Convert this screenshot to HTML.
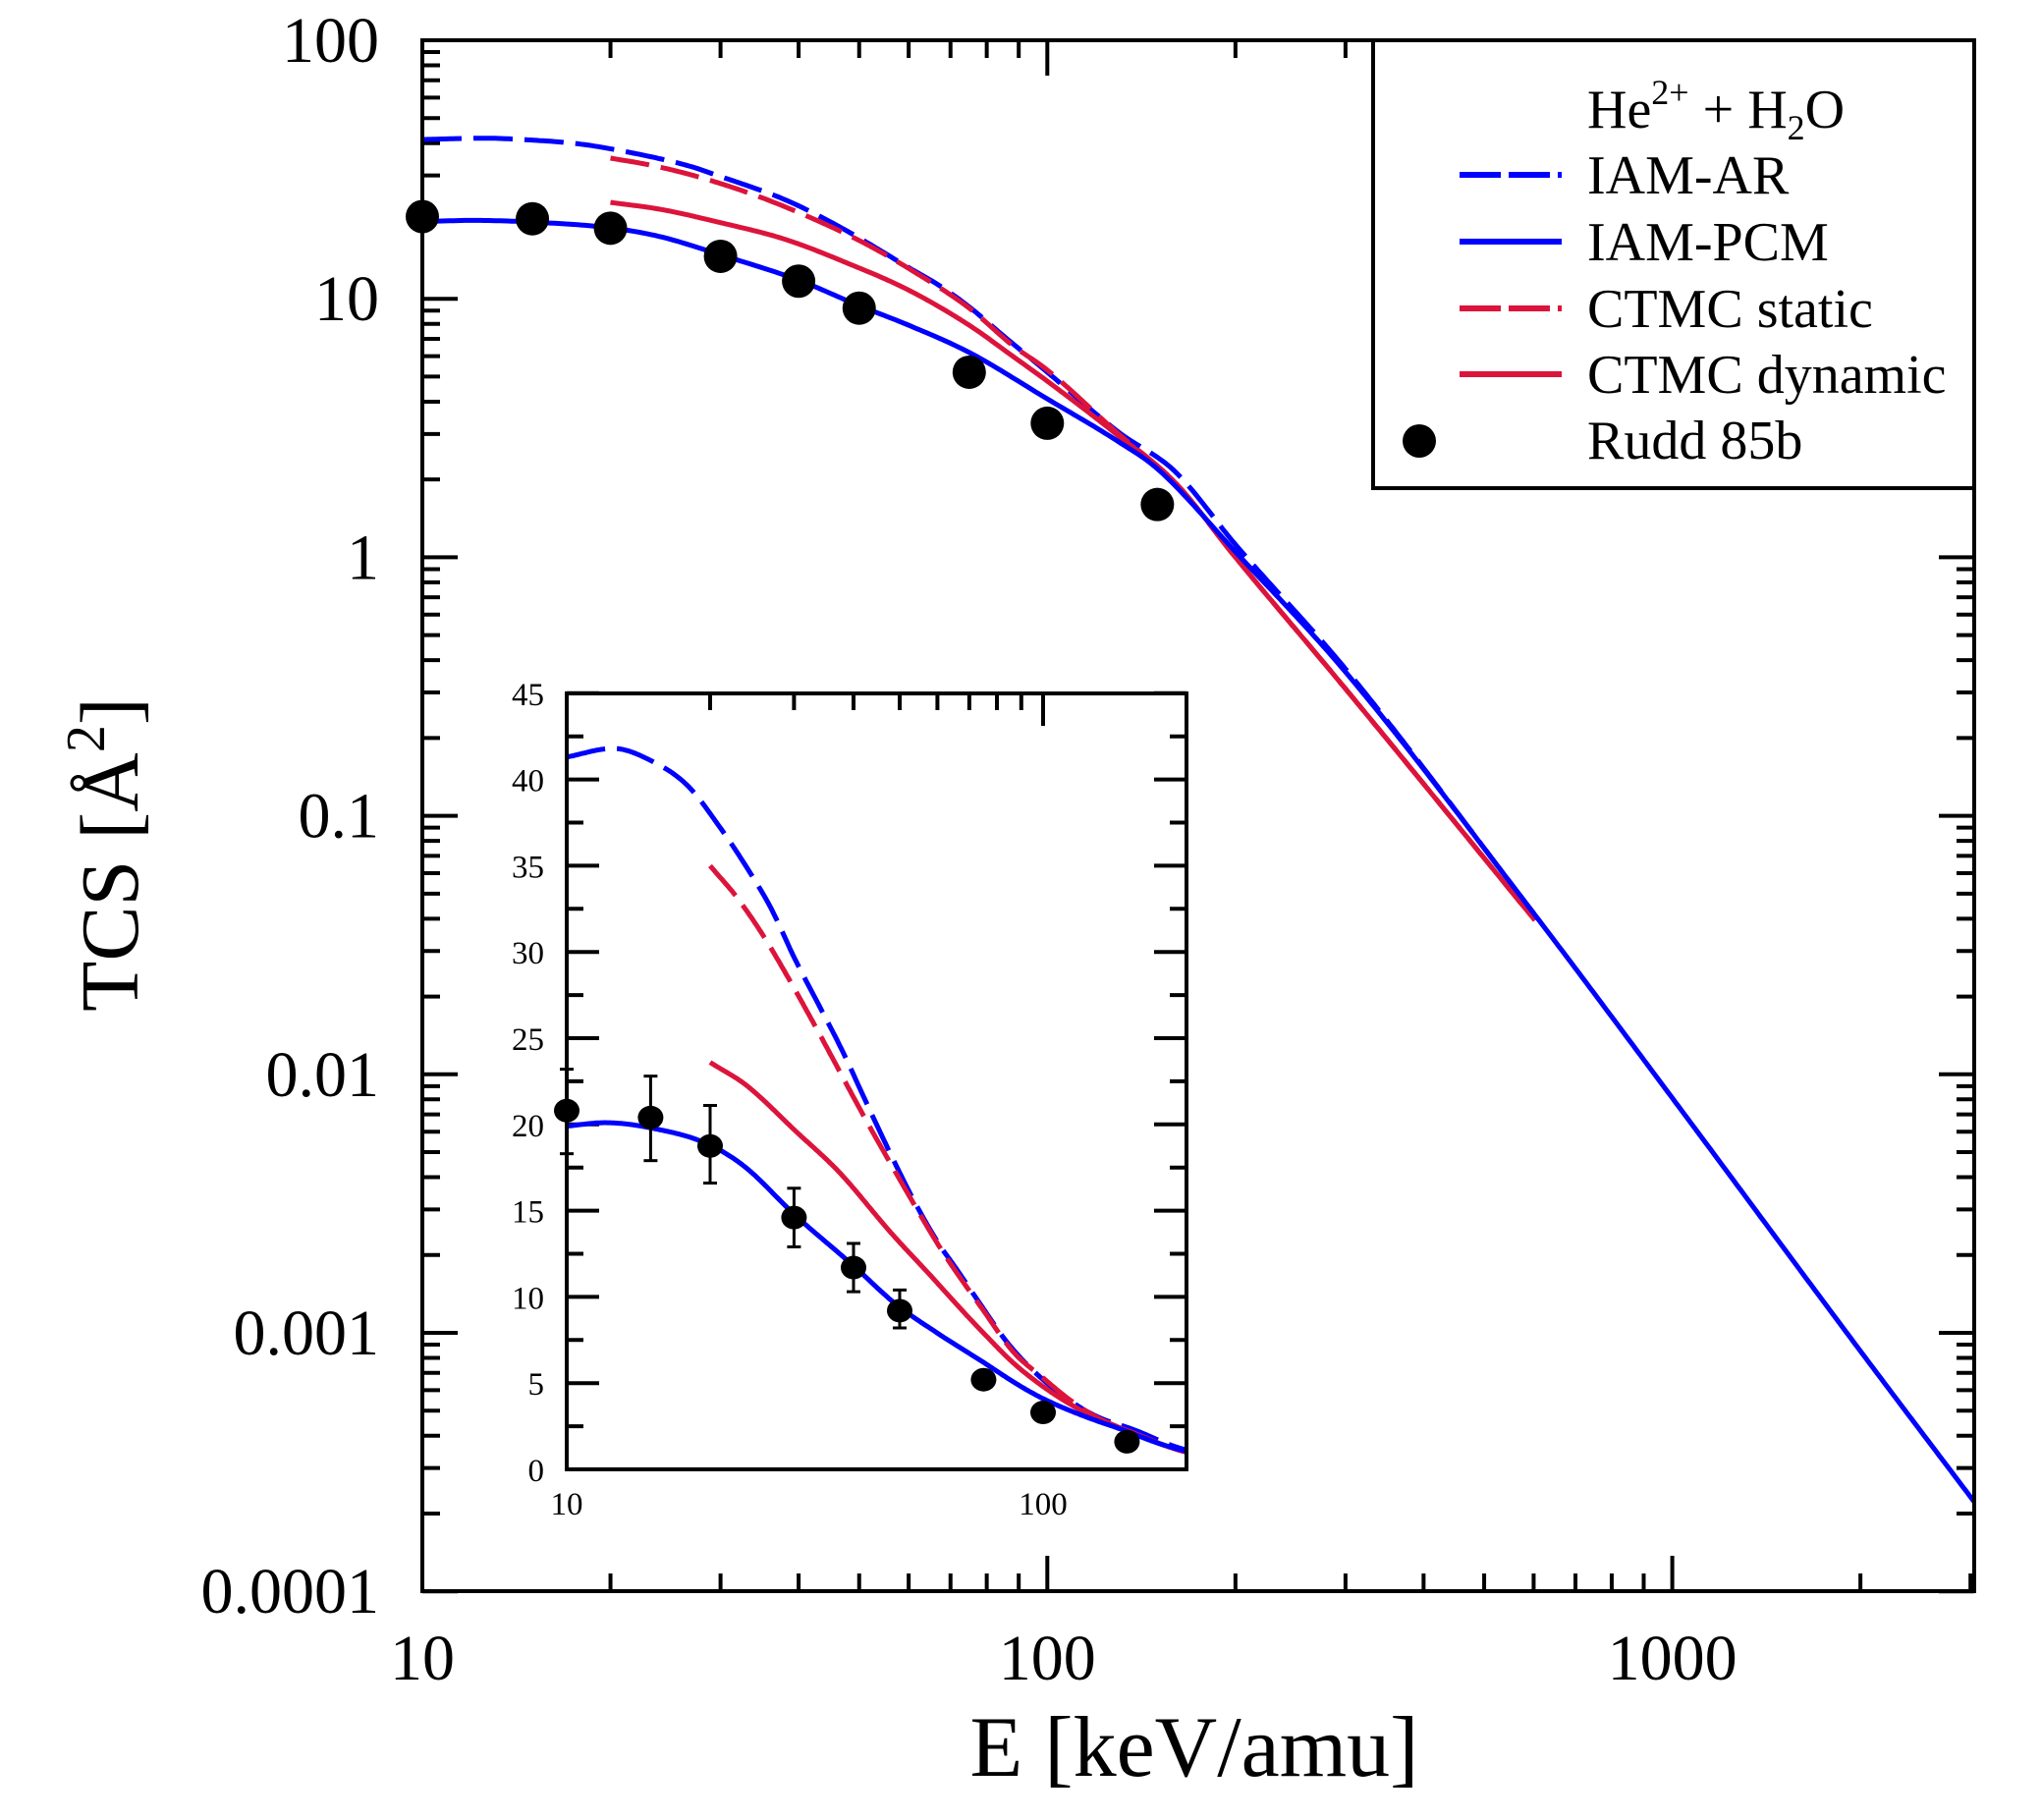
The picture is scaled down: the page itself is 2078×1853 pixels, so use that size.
<!DOCTYPE html>
<html><head><meta charset="utf-8"><style>
html,body{margin:0;padding:0;background:#fff;}
svg{display:block;}
text{font-family:"Liberation Serif",serif;fill:#000;}
</style></head><body>
<svg id="s" width="2078" height="1853" viewBox="0 0 2078 1853" xmlns="http://www.w3.org/2000/svg">
<rect width="2078" height="1853" fill="#fff"/>
<g id="main"></g>
<g id="inset"></g>
<rect x="1398" y="41" width="612" height="456" fill="#fff" stroke="#000" stroke-width="4"/>
<text x="1616" y="130" font-size="56">He<tspan dy="-24" font-size="36">2+</tspan><tspan dy="24"> + H</tspan><tspan dy="12" font-size="36">2</tspan><tspan dy="-12">O</tspan></text>
<line x1="1486" y1="178" x2="1590" y2="178" stroke="#0000ff" stroke-width="6" stroke-dasharray="42,8"/>
<text x="1616" y="197" font-size="56">IAM-AR</text>
<line x1="1486" y1="246" x2="1590" y2="246" stroke="#0000ff" stroke-width="6"/>
<text x="1616" y="265" font-size="56">IAM-PCM</text>
<line x1="1486" y1="314" x2="1590" y2="314" stroke="#dc143c" stroke-width="6" stroke-dasharray="42,8"/>
<text x="1616" y="333" font-size="56">CTMC static</text>
<line x1="1486" y1="381" x2="1590" y2="381" stroke="#dc143c" stroke-width="6"/>
<text x="1616" y="400" font-size="56">CTMC dynamic</text>
<ellipse cx="1445" cy="449" rx="17" ry="17" fill="#000"/>
<text x="1616" y="467" font-size="56">Rudd 85b</text>
<text x="1216" y="1808" font-size="88" text-anchor="middle">E [keV/amu]</text>
<text transform="translate(140,870) rotate(-90)" font-size="84" text-anchor="middle">TCS [Å<tspan dy="-34" font-size="56">2</tspan><tspan dy="34">]</tspan></text>
</svg>
<script>
const NS="http://www.w3.org/2000/svg";
function el(p,t,a){const e=document.createElementNS(NS,t);for(const k in a)e.setAttribute(k,a[k]);p.appendChild(e);return e;}
const L=Math.log10;
const MX=e=>430+636.3*(L(e)-1), MY=v=>41+263.2*(2-L(v));
const IX=e=>577+485*(L(e)-1), IY=v=>1496-17.56*v;
const PCM=[[10,19.9],[12,20.1],[15,19.8],[20,18.8],[24,17.4],[30,14.8],[40,11.8],[50,9.4],[60,7.9],[75,6.2],[100,4.1],[130,2.8],[150,2.2],[200,1.05],[300,0.36],[600,0.042],[1000,0.0081],[2000,0.00085],[3050,0.00022]];
const AR=[[10,41.3],[12.5,41.8],[15,41.1],[18,39.6],[21,37.2],[24,34.8],[27,32.4],[30,29.7],[34,26.8],[38,24.2],[43,21],[48,18.2],[54,15.4],[60,13.2],[67,11.3],[75,9.3],[85,7.2],[100,5.2],[130,3.05],[160,2.15],[200,1.12],[300,0.37],[600,0.042]];
const ST=[[20,35],[23,33],[27,30.1],[34,25.2],[42,20.5],[51,16.4],[60,13.1],[75,9.2],[88,6.6],[100,5.3],[130,3.0],[160,1.95],[200,1.0],[300,0.31],[600,0.040]];
const DY=[[20,23.6],[24,22.2],[30,19.7],[38,17.0],[48,13.7],[60,10.8],[75,7.9],[88,6.0],[100,4.8],[130,2.95],[160,1.95],[200,1.0],[300,0.31],[600,0.040]];
function mk(d){const xs=d.map(p=>L(p[0])),ys=d.map(p=>L(p[1])),n=d.length;const del=[],m=new Array(n);
 for(let i=0;i<n-1;i++)del.push((ys[i+1]-ys[i])/(xs[i+1]-xs[i]));
 m[0]=del[0];m[n-1]=del[n-2];
 for(let i=1;i<n-1;i++){m[i]=(del[i-1]*del[i]<=0)?0:(del[i-1]+del[i])/2;}
 for(let i=0;i<n-1;i++){if(del[i]==0){m[i]=m[i+1]=0;continue;}const a=m[i]/del[i],b=m[i+1]/del[i],s=a*a+b*b;if(s>9){const t=3/Math.sqrt(s);m[i]=t*a*del[i];m[i+1]=t*b*del[i];}}
 return e=>{const x=L(e);let i=0;while(i<n-2&&x>xs[i+1])i++;const h=xs[i+1]-xs[i],t=(x-xs[i])/h,t2=t*t,t3=t2*t;
  const y=(2*t3-3*t2+1)*ys[i]+(t3-2*t2+t)*h*m[i]+(-2*t3+3*t2)*ys[i+1]+(t3-t2)*h*m[i+1];return Math.pow(10,y);};}
function path(d,X,Y,e0,e1){const f=mk(d);let s="";const n=400;for(let k=0;k<=n;k++){const e=Math.pow(10,L(e0)+(L(e1)-L(e0))*k/n);s+=(k?"L":"M")+X(e).toFixed(1)+","+Y(f(e)).toFixed(1);}return s;}
const M=document.getElementById("main"),I=document.getElementById("inset");
const BL="#0000ff",RD="#dc143c";
for(let dec=1;dec<=3;dec++)for(let m=1;m<=9;m++){const e=m*Math.pow(10,dec);if(e>3040)break;const x=MX(e);const len=m==1?36:18;
 el(M,"line",{x1:x,y1:1620,x2:x,y2:1620-len,stroke:"#000","stroke-width":4});
 el(M,"line",{x1:x,y1:41,x2:x,y2:41+len,stroke:"#000","stroke-width":4});}
for(let dec=-4;dec<=1;dec++)for(let m=1;m<=9;m++){const v=m*Math.pow(10,dec);const y=MY(v);const len=m==1?36:18;
 el(M,"line",{x1:430,y1:y,x2:430+len,y2:y,stroke:"#000","stroke-width":4});
 el(M,"line",{x1:2010,y1:y,x2:2010-len,y2:y,stroke:"#000","stroke-width":4});}
const yl=["0.0001","0.001","0.01","0.1","1","10","100"];
yl.forEach((t,i)=>{const tx=el(M,"text",{x:386,y:MY(Math.pow(10,i-4))+22,"font-size":66,"text-anchor":"end"});tx.textContent=t;});
[["10",10],["100",100],["1000",1000]].forEach(([t,e])=>{const tx=el(M,"text",{x:MX(e),y:1710,"font-size":66,"text-anchor":"middle"});tx.textContent=t;});
el(M,"path",{d:path(AR,MX,MY,10,603),fill:"none",stroke:BL,"stroke-width":5,"stroke-dasharray":"40,12"});
el(M,"path",{d:path(ST,MX,MY,20,603),fill:"none",stroke:RD,"stroke-width":5,"stroke-dasharray":"40,12"});
el(M,"path",{d:path(DY,MX,MY,20,603),fill:"none",stroke:RD,"stroke-width":5});
el(M,"path",{d:path(PCM,MX,MY,10,3040),fill:"none",stroke:BL,"stroke-width":5});
const RU=[[10,20.8],[15,20.4],[20,18.75],[30,14.6],[40,11.7],[50,9.2],[75,5.2],[100,3.3],[150,1.6]];
RU.forEach(([e,v])=>el(M,"ellipse",{cx:MX(e),cy:MY(v),rx:17,ry:17,fill:"#000"}));
el(M,"rect",{x:430,y:41,width:1580,height:1579,fill:"none",stroke:"#000","stroke-width":4});
el(I,"rect",{x:577,y:706,width:631,height:790,fill:"#fff"});
for(let k=0;k<=18;k++){const v=k*2.5;const y=IY(v);const len=k%2==0?33:17;
 el(I,"line",{x1:577,y1:y,x2:577+len,y2:y,stroke:"#000","stroke-width":4});
 el(I,"line",{x1:1208,y1:y,x2:1208-len,y2:y,stroke:"#000","stroke-width":4});
 if(k%2==0){const tx=el(I,"text",{x:554,y:y+12,"font-size":33,"text-anchor":"end"});tx.textContent=String(v);}}
for(let e=20;e<=200;e+=(e<100?10:100)){const x=IX(e);const len=e==100?33:17;el(I,"line",{x1:x,y1:706,x2:x,y2:706+len,stroke:"#000","stroke-width":4});}
[["10",10],["100",100]].forEach(([t,e])=>{const tx=el(I,"text",{x:IX(e),y:1542,"font-size":33,"text-anchor":"middle"});tx.textContent=t;});
const clip=el(I,"clipPath",{id:"ic"});el(clip,"rect",{x:577,y:706,width:631,height:790});
const g=el(I,"g",{"clip-path":"url(#ic)"});
el(g,"path",{d:path(AR,IX,IY,10,205),fill:"none",stroke:BL,"stroke-width":5,"stroke-dasharray":"40,12"});
el(g,"path",{d:path(ST,IX,IY,20,205),fill:"none",stroke:RD,"stroke-width":5,"stroke-dasharray":"40,12"});
el(g,"path",{d:path(DY,IX,IY,20,205),fill:"none",stroke:RD,"stroke-width":5});
el(g,"path",{d:path(PCM,IX,IY,10,205),fill:"none",stroke:BL,"stroke-width":5});
const EB={10:[18.3,23.2],15:[17.9,22.8],20:[16.6,21.1],30:[12.9,16.3],40:[10.3,13.1],50:[8.2,10.4]};
for(const k in EB){const x=IX(+k),a=IY(EB[k][0]),b=IY(EB[k][1]);
 el(I,"line",{x1:x,y1:a,x2:x,y2:b,stroke:"#000","stroke-width":3});
 el(I,"line",{x1:x-7,y1:a,x2:x+7,y2:a,stroke:"#000","stroke-width":3});
 el(I,"line",{x1:x-7,y1:b,x2:x+7,y2:b,stroke:"#000","stroke-width":3});}
RU.forEach(([e,v])=>el(I,"ellipse",{cx:IX(e),cy:IY(v),rx:13,ry:12,fill:"#000"}));
el(I,"rect",{x:577,y:706,width:631,height:790,fill:"none",stroke:"#000","stroke-width":4});
</script>
</body></html>
